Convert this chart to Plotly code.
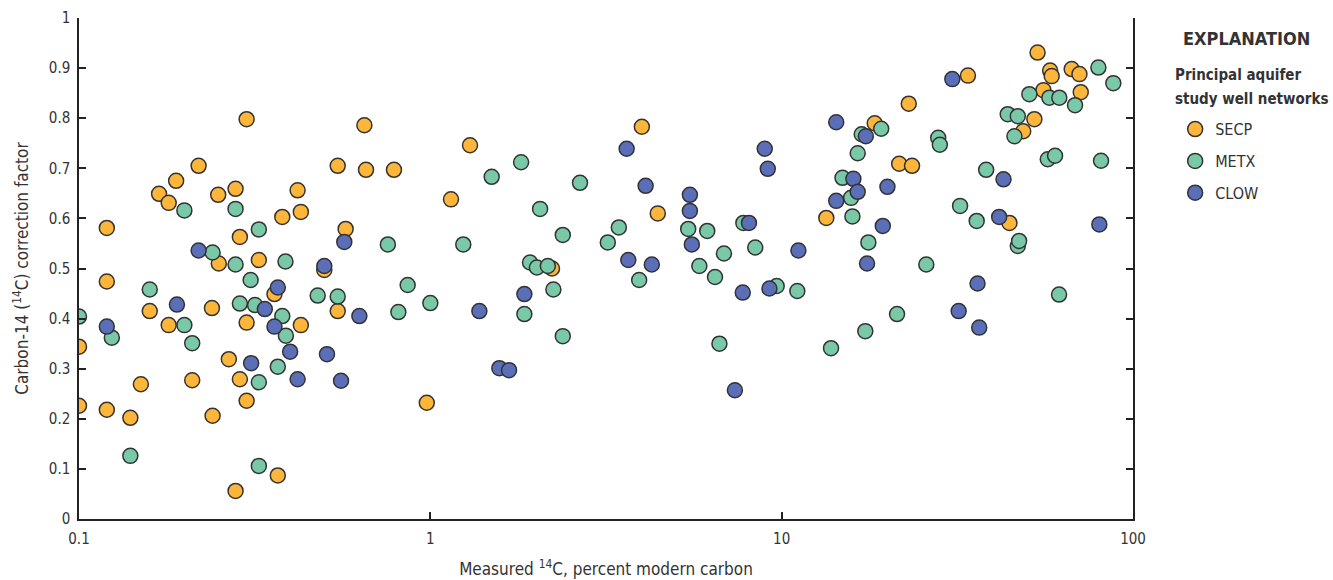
import plotly.graph_objects as go

# ---- data ----
secp_x = [0.100, 0.100, 0.120, 0.120, 0.120, 0.140, 0.150, 0.159, 0.169, 0.180, 0.189, 0.180,
          0.219, 0.210, 0.239, 0.240, 0.249, 0.250, 0.267, 0.279, 0.279, 0.287, 0.287, 0.300,
          0.300, 0.300, 0.325, 0.360, 0.368, 0.379, 0.419, 0.428, 0.428, 0.499, 0.545, 0.545,
          0.574, 0.649, 0.656, 0.788, 0.977, 1.145, 1.297, 2.22, 4.0, 4.44, 13.4, 18.4, 21.6,
          23.0, 23.5, 33.9, 44.5, 48.7, 52.4, 53.5, 55.6, 58.1, 58.7, 66.9, 70.4, 71.0]
secp_y = [0.344, 0.226, 0.581, 0.474, 0.218, 0.202, 0.269, 0.415, 0.649, 0.631, 0.675, 0.387,
          0.705, 0.277, 0.421, 0.206, 0.647, 0.510, 0.319, 0.659, 0.056, 0.563, 0.279, 0.798,
          0.392, 0.236, 0.517, 0.449, 0.087, 0.603, 0.656, 0.613, 0.387, 0.497, 0.705, 0.415,
          0.579, 0.786, 0.697, 0.697, 0.232, 0.638, 0.746, 0.500, 0.783, 0.610, 0.601, 0.790,
          0.709, 0.829, 0.705, 0.885, 0.591, 0.774, 0.798, 0.931, 0.856, 0.895, 0.884, 0.898,
          0.888, 0.852]

metx_x = [0.100, 0.124, 0.140, 0.159, 0.1995, 0.1995, 0.210, 0.240, 0.279, 0.279, 0.287, 0.308,
          0.317, 0.325, 0.325, 0.325, 0.368, 0.379, 0.387, 0.388, 0.478, 0.545, 0.757, 0.811,
          0.862, 1.0, 1.241, 1.495, 1.813, 1.852, 1.922, 2.01, 2.053, 2.16, 2.24, 2.382, 2.382,
          2.667, 3.20, 3.44, 3.93, 5.42, 5.83, 6.14, 6.46, 6.65, 6.85, 7.78, 8.41, 9.68, 11.08,
          13.82, 14.9, 15.76, 15.9, 16.46, 16.9, 17.3, 17.65, 19.2, 21.3, 25.8, 27.9, 28.2,
          32.2, 35.9, 38.2, 44.0, 45.97, 47.0, 47.0, 47.4, 50.7, 57.2, 57.8, 60.0, 61.6, 61.7,
          68.4, 79.7, 81.1, 87.9]
metx_y = [0.404, 0.362, 0.126, 0.458, 0.616, 0.387, 0.351, 0.532, 0.619, 0.508, 0.430, 0.477,
          0.427, 0.578, 0.273, 0.106, 0.304, 0.405, 0.514, 0.366, 0.446, 0.444, 0.548, 0.413,
          0.467, 0.431, 0.548, 0.683, 0.712, 0.409, 0.512, 0.502, 0.619, 0.505, 0.458, 0.567,
          0.365, 0.671, 0.552, 0.582, 0.477, 0.579, 0.505, 0.575, 0.483, 0.350, 0.530, 0.591,
          0.542, 0.465, 0.455, 0.341, 0.681, 0.641, 0.604, 0.730, 0.768, 0.375, 0.552, 0.779,
          0.409, 0.508, 0.761, 0.747, 0.625, 0.595, 0.697, 0.808, 0.764, 0.804, 0.545, 0.555,
          0.848, 0.718, 0.841, 0.725, 0.448, 0.841, 0.826, 0.901, 0.715, 0.870]

clow_x = [0.120, 0.190, 0.219, 0.309, 0.338, 0.360, 0.368, 0.399, 0.419, 0.499, 0.508, 0.557,
          0.569, 0.628, 1.379, 1.572, 1.675, 1.852, 3.62, 3.66, 4.1, 4.27, 5.48, 5.48, 5.55,
          7.36, 7.75, 8.07, 8.95, 9.13, 9.23, 11.16, 14.3, 14.3, 16.0, 16.46, 17.36, 17.5, 19.4,
          20.0, 30.6, 31.9, 36.1, 36.5, 41.6, 42.8, 80.2]
clow_y = [0.384, 0.428, 0.536, 0.311, 0.419, 0.384, 0.462, 0.334, 0.279, 0.505, 0.329, 0.276,
          0.553, 0.405, 0.415, 0.301, 0.297, 0.449, 0.739, 0.517, 0.665, 0.508, 0.647, 0.615,
          0.548, 0.257, 0.452, 0.591, 0.739, 0.699, 0.460, 0.536, 0.792, 0.635, 0.679, 0.653,
          0.764, 0.510, 0.585, 0.663, 0.878, 0.415, 0.470, 0.382, 0.603, 0.678, 0.588]

series_names = ["SECP", "METX", "CLOW"]
series_colors = ["#FDB63A", "#79C9A8", "#5B6FB9"]

x_tickvals = [0.1, 1, 10, 100]
x_ticktext = ["0.1", "1", "10", "100"]
y_tickvals = [0, 0.1, 0.2, 0.3, 0.4, 0.5, 0.6, 0.7, 0.8, 0.9, 1]
y_ticktext = ["0", "0.1", "0.2", "0.3", "0.4", "0.5", "0.6", "0.7", "0.8", "0.9", "1"]

FONT = "Liberation Sans Narrow, DejaVu Sans Condensed, Roboto, sans-serif"
TXT = "#333333"

fig = go.Figure()
for name, xs, ys, col in zip(series_names, [secp_x, metx_x, clow_x], [secp_y, metx_y, clow_y], series_colors):
    fig.add_trace(go.Scatter(
        x=xs, y=ys, mode="markers", name=name, legendgroup=name,
        marker=dict(size=15, color=col, line=dict(color="#333333", width=1.5)),
    ))

fig.update_layout(
    width=1333, height=580,
    margin=dict(l=79, r=200, t=18, b=61),
    plot_bgcolor="white", paper_bgcolor="white",
    font=dict(family=FONT, size=15, color=TXT),
    showlegend=True,
    legend=dict(x=1.04, y=0.812, xanchor="left", yanchor="top",
                font=dict(family=FONT, size=16, color=TXT),
                tracegroupgap=8, bgcolor="rgba(0,0,0,0)"),
    xaxis=dict(type="log", range=[-1, 2], tickvals=x_tickvals, ticktext=x_ticktext,
               automargin=False,
               showgrid=False, zeroline=False, showline=True, linecolor="#222222", linewidth=1.5,
               ticks="inside", ticklen=7, tickcolor="#222222", tickwidth=1.5,
               ticklabelstandoff=5,
               tickfont=dict(family=FONT, size=15, color=TXT),
               title=dict(text="Measured <sup>14</sup>C, percent modern carbon",
                          font=dict(family=FONT, size=17, color=TXT), standoff=16)),
    yaxis=dict(range=[0, 1], tickvals=y_tickvals, ticktext=y_ticktext,
               automargin=False,
               showgrid=False, zeroline=False, showline=True, mirror="ticks",
               linecolor="#222222", linewidth=1.5,
               ticks="inside", ticklen=7, tickcolor="#222222", tickwidth=1.5,
               ticklabelstandoff=4,
               tickfont=dict(family=FONT, size=15, color=TXT),
               title=dict(text="Carbon-14 (<sup>14</sup>C) correction factor",
                          font=dict(family=FONT, size=17, color=TXT), standoff=16)),
    annotations=[
        dict(text="<b>EXPLANATION</b>", xref="paper", yref="paper", x=1.108, y=0.960,
             xanchor="center", yanchor="middle", showarrow=False,
             font=dict(family=FONT, size=18, color=TXT)),
        dict(text="<b>Principal aquifer</b>", xref="paper", yref="paper",
             x=1.038, y=0.886, xanchor="left", yanchor="middle", align="left", showarrow=False,
             font=dict(family=FONT, size=15, color=TXT)),
        dict(text="<b>study well networks</b>", xref="paper", yref="paper",
             x=1.038, y=0.838, xanchor="left", yanchor="middle", align="left", showarrow=False,
             font=dict(family=FONT, size=15, color=TXT)),
    ],
)

fig.write_html("out.html")
